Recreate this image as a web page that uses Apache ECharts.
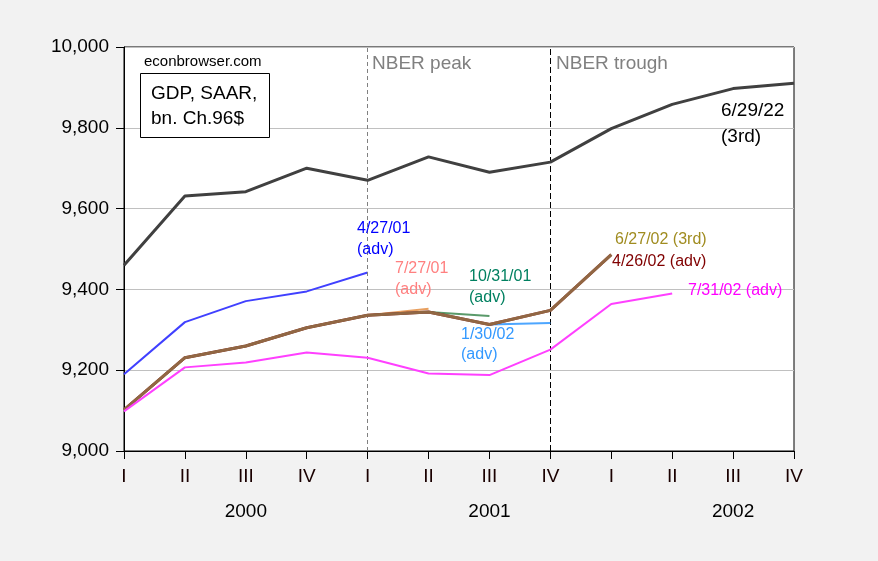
<!DOCTYPE html>
<html><head><meta charset="utf-8">
<script src="https://cdn.jsdelivr.net/npm/echarts@6/dist/echarts.min.js"></script>
<style>html,body{margin:0;padding:0;background:#f2f2f2}#c{width:878px;height:561px}</style>
</head><body><div id="c"></div>
<script>
const quarterLabels = ['I','II','III','IV','I','II','III','IV','I','II','III','IV'];
const yearOfQuarter = ['2000','2000','2000','2000','2001','2001','2001','2001','2002','2002','2002','2002'];
const yTicks = [9000, 9200, 9400, 9600, 9800, 10000];

const v_2022_06_29 = [9460, 9631, 9642, 9700, 9670, 9728, 9690, 9715, 9798, 9858, 9897, 9910];
const v_2001_04_27 = [9190, 9319, 9371, 9395, 9442, null, null, null, null, null, null, null];
const v_2001_07_27 = [9102, 9231, 9260, 9305, 9336, 9352, null, null, null, null, null, null];
const v_2001_10_31 = [9102, 9231, 9260, 9305, 9336, 9344, 9334, null, null, null, null, null];
const v_2002_01_30 = [9102, 9231, 9260, 9305, 9336, 9344, 9313, 9317, null, null, null, null];
const v_2002_04_26 = [9102, 9231, 9260, 9305, 9336, 9344, 9313, 9348, 9486, null, null, null];
const v_2002_06_27 = [9102, 9231, 9260, 9305, 9336, 9344, 9313, 9348, 9486, null, null, null];
const v_2002_07_31 = [9098, 9207, 9219, 9244, 9231, 9192, 9188, 9251, 9364, 9390, null, null];

const cats = quarterLabels.map((q, i) => yearOfQuarter[i] + ':' + q);
const FONT = '"Liberation Sans", Arial, sans-serif';

function line(name, data, color, width, z, opacity) {
  return {
    name, type: 'line', data, symbol: 'none', z: z || 2,
    connectNulls: false,
    lineStyle: { color, width, opacity: opacity == null ? 1 : opacity },
    itemStyle: { color }
  };
}

const chart = echarts.init(document.getElementById('c'));
const darkSeries = line('6/29/22 (3rd)', v_2022_06_29, '#404040', 3, 10);
darkSeries.markLine = {
  symbol: 'none', silent: true, label: { show: false },
  data: [
    { xAxis: cats[4], lineStyle: { color: '#808080', type: [4, 3], width: 1 } },
    { xAxis: cats[7], lineStyle: { color: '#000', type: [6, 3], width: 1 } }
  ]
};

function txt(x, y, text, fill, size) {
  return { type: 'text', x, y, z: 100,
    style: { text, fill, font: size + 'px ' + FONT, textVerticalAlign: 'middle' } };
}

chart.setOption({
  animation: false,
  backgroundColor: '#f2f2f2',
  grid: { left: 124, right: 84, top: 47, bottom: 110, show: true,
    backgroundColor: '#fff', borderColor: '#000', borderWidth: 1 },
  xAxis: [{
    type: 'category', data: cats, boundaryGap: false,
    axisLine: { lineStyle: { color: '#000', width: 1 } },
    axisTick: { show: true, length: 8, inside: false, lineStyle: { color: '#000' } },
    axisLabel: { interval: 0, margin: 16, color: '#1a0000', fontFamily: FONT, fontSize: 19,
      formatter: (v, i) => quarterLabels[i] },
    splitLine: { show: false }
  }, {
    type: 'category', data: cats, boundaryGap: false, position: 'bottom',
    axisLine: { show: false }, axisTick: { show: false },
    axisLabel: { interval: 0, margin: 51, color: '#000', fontFamily: FONT, fontSize: 19,
      formatter: (v, i) => (i % 4 === 2 ? yearOfQuarter[i] : '') },
    splitLine: { show: false }
  }],
  yAxis: {
    type: 'value', min: yTicks[0], max: yTicks[yTicks.length - 1], interval: 200,
    axisLine: { show: true, lineStyle: { color: '#000' } },
    axisTick: { show: true, length: 8, lineStyle: { color: '#000' } },
    axisLabel: { margin: 15, color: '#000', fontFamily: FONT, fontSize: 19,
      formatter: v => String(v).replace(/\B(?=(\d{3})+(?!\d))/g, ',') },
    splitLine: { show: true, lineStyle: { color: '#c0c0c0', width: 1 } }
  },
  series: [
    line('4/27/01 (adv)', v_2001_04_27, '#4040ff', 2, 3),
    line('7/27/01 (adv)', v_2001_07_27, '#e8a060', 2, 3),
    line('10/31/01 (adv)', v_2001_10_31, '#5a9a6a', 2, 4),
    line('1/30/02 (adv)', v_2002_01_30, '#4da6ff', 2, 5),
    line('4/26/02 (adv)', v_2002_04_26, '#7a0000', 3, 6),
    line('6/27/02 (3rd)', v_2002_06_27, '#9a8a5a', 3, 7, 0.75),
    line('7/31/02 (adv)', v_2002_07_31, '#ff40ff', 2, 8),
    darkSeries
  ],
  graphic: [
    txt(144, 62, 'econbrowser.com', '#000', 15),
    { type: 'rect', z: 99, shape: { x: 140.5, y: 73.5, width: 129, height: 64 },
      style: { fill: '#fff', stroke: '#000', lineWidth: 1 } },
    txt(151, 94, 'GDP, SAAR,', '#000', 19),
    txt(151, 119, 'bn. Ch.96$', '#000', 19),
    txt(372, 64, 'NBER peak', '#808080', 19),
    txt(556, 64, 'NBER trough', '#808080', 19),
    txt(721, 111, '6/29/22', '#000', 19),
    txt(721, 137, '(3rd)', '#000', 19),
    txt(357, 229, '4/27/01', '#0000ff', 16),
    txt(357, 250, '(adv)', '#0000ff', 16),
    txt(395, 269, '7/27/01', '#ff8080', 16),
    txt(395, 290, '(adv)', '#ff8080', 16),
    txt(469, 277, '10/31/01', '#008060', 16),
    txt(469, 298, '(adv)', '#008060', 16),
    txt(461, 335, '1/30/02', '#3399ff', 16),
    txt(461, 355, '(adv)', '#3399ff', 16),
    txt(615, 240, '6/27/02 (3rd)', '#a08c20', 16),
    txt(612, 262, '4/26/02 (adv)', '#800000', 16),
    txt(688, 291, '7/31/02 (adv)', '#ff00ff', 16)
  ]
});
</script></body></html>
